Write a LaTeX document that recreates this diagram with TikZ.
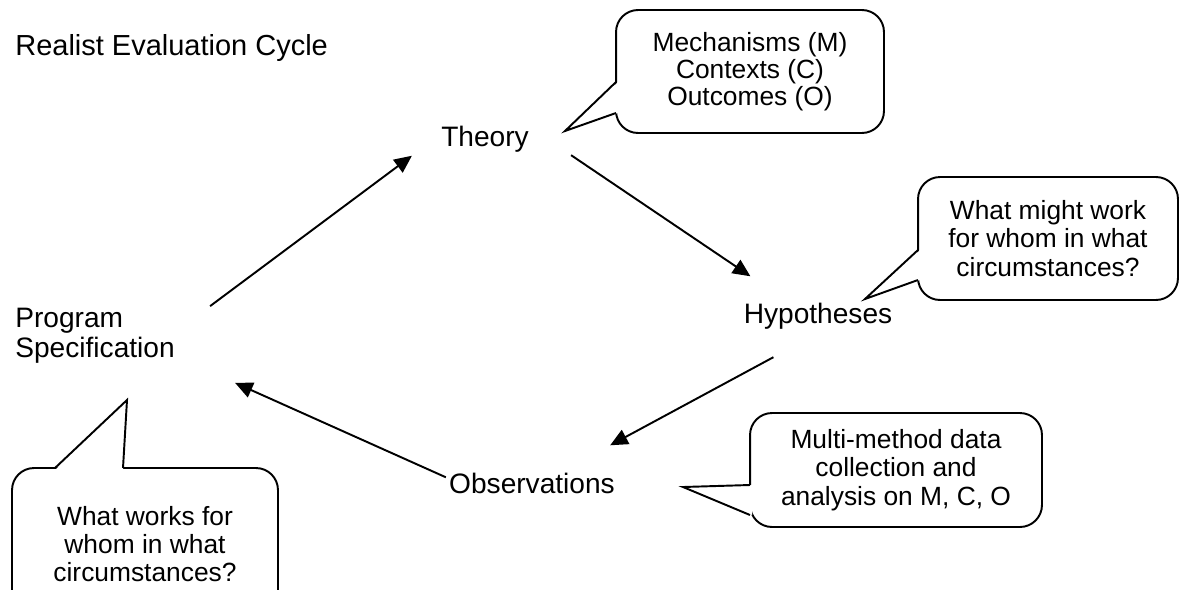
\documentclass[tikz,border=0pt]{standalone}
\usepackage{fontspec}
\setmainfont{Liberation Sans}
\usetikzlibrary{arrows.meta,positioning}
\tikzset
{
    label/.style   = {font=\fontsize{16}{17}\selectfont, inner sep=0pt, align=left},
    callout/.style = {draw=black, fill=white, rounded corners=0.44cm, align=center, inner sep=0pt, line width=1.1pt, font=\fontsize{15}{16.1}\selectfont},
    flow/.style    = {-{Triangle[length=10pt,width=9pt]}, line width=1.1pt},
    wedge/.style   = {line width=1.1pt, line join=miter}
}

\begin{document}
\begin{tikzpicture}[x=0.02cm,y=-0.02cm]
\useasboundingbox (0,0) rectangle (1179,589);
\clip (0,0) rectangle (1179,589);
\node [label, anchor=base west, font=\fontsize{16.5}{18}\selectfont] at (15,55) (title) {Realist Evaluation Cycle};
\node [label, anchor=base] at (485,146) (theory) {Theory};
\node [label, anchor=base] at (818,323) (hyp) {Hypotheses};
\node [label, anchor=base] at (532,493) (obs) {Observations};
\node [label, anchor=west] at (15,336) (spec) {Program\\Specification};
% callouts
\node [callout, minimum width=5.36cm, minimum height=2.46cm, font=\fontsize{15}{15.2}\selectfont] at (750,71.5) (cmco) {Mechanisms (M)\\Contexts (C)\\Outcomes (O)};
\fill [white] (618,82) -- (565,131) -- (618,113) -- cycle;
\draw [wedge] (616,82) -- (565,131) -- (616,113);
\node [callout, minimum width=5.2cm, minimum height=2.46cm] at (1048,238.5) (might) {What might work\\for whom in what\\circumstances?};
\fill [white] (920,250) -- (865,299) -- (920,280) -- cycle;
\draw [wedge] (918,250) -- (865,299) -- (918,280);
\node [callout, minimum width=5.32cm, minimum height=3.04cm] at (145,544) (works) {What works for\\whom in what\\circumstances?};
\fill [white] (55,470) -- (127,400) -- (123,470) -- cycle;
\draw [wedge] (55,468) -- (127,400) -- (123,468);
\node [callout, minimum width=5.84cm, minimum height=2.28cm] at (896,470) (multi) {Multi-method data\\collection and\\analysis on M, C, O};
\fill [white] (752,485) -- (683,487) -- (752,515) -- cycle;
\draw [wedge] (750,485) -- (683,487) -- (750,515);
% cycle
\draw [flow] ([shift={(35,-2)}]spec.north east) -- ([shift={(-29,17)}]theory.west);
\draw [flow] ([shift={(42,3)}]theory.south east) -- ([shift={(7,-26)}]hyp.north west);
\draw [flow] ([shift={(30,28)}]hyp.south west) -- ([shift={(-5,-27)}]obs.north east);
\draw [flow] ([shift={(-3,5)}]obs.north west) -- ([shift={(60,19)}]spec.south east);
\end{tikzpicture}
\end{document}
